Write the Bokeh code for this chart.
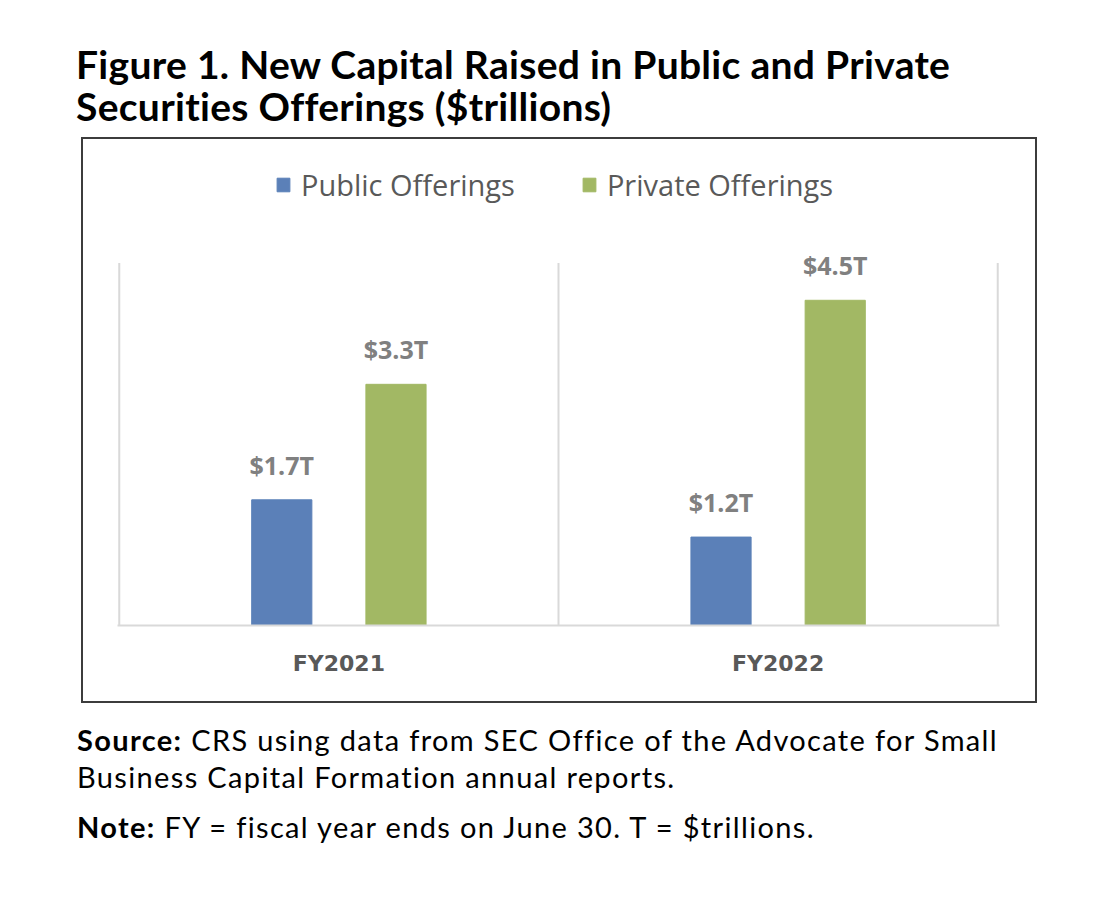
from bokeh.plotting import figure
from bokeh.models import (ColumnDataSource, FixedTicker, LabelSet, Legend,
                          LegendItem, Div, Range1d)
from bokeh.core.properties import value
from bokeh.layouts import column
from bokeh.transform import dodge
from bokeh.embed import file_html
from bokeh.resources import INLINE

# ---- data ----
categories = ["FY2021", "FY2022"]
series = ["Public Offerings", "Private Offerings"]
public_values = [1.72, 1.21]
private_values = [3.30, 4.45]
public_labels = ["$1.7T", "$1.2T"]
private_labels = ["$3.3T", "$4.5T"]
colors = ["#5B80B8", "#A2B864"]

AXIS_TOP = 4.96      # top of the plotted value area (separator lines)
VIEW_TOP = 6.65      # extra room above for the legend

x_centers = [i + 0.5 for i in range(len(categories))]
bounds = list(range(len(categories) + 1))
src = ColumnDataSource(dict(x=x_centers, public=public_values, private=private_values,
                            publ=public_labels, privl=private_labels))

p = figure(width=952, height=562,
           x_range=Range1d(-0.004, len(categories) + 0.004),
           y_range=Range1d(0, VIEW_TOP),
           output_backend="svg", toolbar_location=None,
           min_border_left=34, min_border_right=40,
           min_border_top=0, min_border_bottom=80,
           background_fill_color="white", border_fill_color="white")
p.outline_line_color = None

# category separator lines
p.segment(x0=bounds, y0=[0] * len(bounds), x1=bounds, y1=[AXIS_TOP] * len(bounds),
          line_color="#d9d9d9", line_width=2)

off = 0.13
bw = 0.137
r1 = p.vbar(x=dodge("x", -off), top="public", width=bw, source=src,
            fill_color=colors[0], line_color=colors[0])
r2 = p.vbar(x=dodge("x", off), top="private", width=bw, source=src,
            fill_color=colors[1], line_color=colors[1])

lbl_kw = dict(text_font=value("Open Sans"), text_font_style="bold", text_font_size="25px",
              text_color="#808080", text_align="center", text_baseline="bottom",
              y_offset=18, source=src)
p.add_layout(LabelSet(x=dodge("x", -off), y="public", text="publ", **lbl_kw))
p.add_layout(LabelSet(x=dodge("x", off), y="private", text="privl", **lbl_kw))

legend = Legend(items=[LegendItem(label=series[0], renderers=[r1]),
                       LegendItem(label=series[1], renderers=[r2])],
                orientation="horizontal", location=(158, 421),
                border_line_color=None, background_fill_alpha=0,
                padding=0, margin=0, spacing=66, label_standoff=10,
                glyph_width=16, glyph_height=17,
                label_text_font="Open Sans", label_text_font_size="29px",
                label_text_color="#595959")
p.add_layout(legend)

p.xaxis.ticker = FixedTicker(ticks=x_centers)
p.xaxis.major_label_overrides = {x: c for x, c in zip(x_centers, categories)}
p.xaxis.major_tick_line_color = None
p.xaxis.minor_tick_line_color = None
p.xaxis.axis_line_color = "#d9d9d9"
p.xaxis.axis_line_width = 2
p.xaxis.major_label_standoff = 19
p.xaxis.major_label_text_font = "DejaVu Sans"
p.xaxis.major_label_text_font_style = "bold"
p.xaxis.major_label_text_font_size = "22px"
p.xaxis.major_label_text_color = "#595959"
p.yaxis.visible = False
p.ygrid.visible = False
p.xgrid.visible = False
p.styles = {"border": "2px solid #3c3c3c", "box-sizing": "content-box"}

title = Div(text="Figure 1. New Capital Raised in Public and Private<br>"
                 "Securities Offerings ($trillions)",
            width=1040, margin=(43, 0, 0, 76),
            styles={"font-family": "Lato", "font-weight": "bold", "font-size": "39px",
                    "letter-spacing": "0.3px",
                    "line-height": "42px", "color": "#000"})

notes = Div(text="<div><b>Source:</b> CRS using data from SEC Office of the Advocate for Small<br>"
                 "Business Capital Formation annual reports.</div>"
                 "<div style='margin-top:13px'><b>Note:</b> FY = fiscal year ends on June 30. T = $trillions.</div>",
            width=1040, margin=(18, 0, 0, 77),
            styles={"font-family": "Lato", "font-size": "29px", "letter-spacing": "1.35px",
                    "line-height": "37px", "color": "#000"})

p.margin = (10, 0, 0, 81)
layout = column(title, p, notes, spacing=0)

open("out.html", "w").write(file_html(layout, INLINE))
